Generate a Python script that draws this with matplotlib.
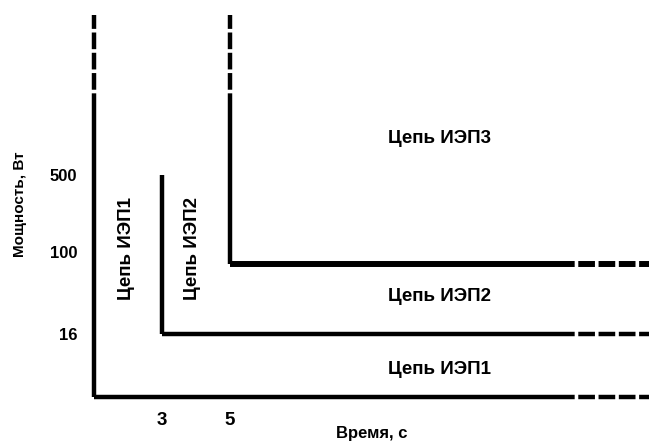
import numpy as np
import matplotlib
matplotlib.use("Agg")
import matplotlib.pyplot as plt
import matplotlib.transforms as mtransforms

# schematic levels
power_levels = [16, 100, 500]          # Вт
time_marks = [3, 5]                    # с
power_solid_top = 1000                 # where solid lines turn dashed (upwards)
power_top = 2000
time_solid_end = 30                    # where solid lines turn dashed (rightwards)
time_end = 40

circuit_labels = ["Цепь ИЭП1", "Цепь ИЭП2", "Цепь ИЭП3"]

# non-uniform schematic axes (the drawing is not to scale)
p_vals = [0, 16, 100, 500, power_solid_top, power_top]
p_pos = [0, 63.5, 133, 222, 287, 382]
t_vals = [0, 3, 5, time_solid_end, time_end]
t_pos = [0, 68, 136, 464, 555]

def fwd_p(v):
    return np.interp(v, p_vals, p_pos)

def inv_p(v):
    return np.interp(v, p_pos, p_vals)

def fwd_t(v):
    return np.interp(v, t_vals, t_pos)

def inv_t(v):
    return np.interp(v, t_pos, t_vals)

plt.rcParams['font.family'] = ['Liberation Sans', 'DejaVu Sans']
plt.rcParams['font.weight'] = 'bold'

W, H = 649, 445
fig = plt.figure(figsize=(W / 100, H / 100), dpi=100)
ax = fig.add_axes([94 / W, 48 / H, 555 / W, 382 / H])
ax.set_xscale('function', functions=(fwd_t, inv_t))
ax.set_yscale('function', functions=(fwd_p, inv_p))
ax.set_xlim(0, time_end)
ax.set_ylim(0, power_top)
for s in ax.spines.values():
    s.set_visible(False)

lw_axis = 3.2
lw_thick = 4.3

def dashed(lw):
    # ~17 px dash, ~3.5 px gap regardless of width
    return (0, (12.0 / lw, 2.6 / lw))

k = dict(color='black', clip_on=False, solid_capstyle='butt', dash_capstyle='butt')

# y axis
ax.plot([0, 0], [0, power_solid_top], lw=lw_axis, **k)
ax.plot([0, 0], [power_solid_top, power_top], lw=lw_axis, ls=dashed(lw_axis), **k)
# x axis (level 0)
ax.plot([0, time_solid_end], [0, 0], lw=lw_axis, **k)
ax.plot([time_solid_end, time_end], [0, 0], lw=lw_axis, ls=dashed(lw_axis), **k)

# ИЭП2 boundary: t = 3 s, P = 16 W .. 500 W
ax.plot([time_marks[0], time_marks[0]], [power_levels[0], power_levels[2]], lw=lw_axis, **k)
ax.plot([time_marks[0], time_solid_end], [power_levels[0], power_levels[0]], lw=lw_axis, **k)
ax.plot([time_solid_end, time_end], [power_levels[0], power_levels[0]], lw=lw_axis, ls=dashed(lw_axis), **k)

# ИЭП3 boundary: t = 5 s, P = 100 W
ax.plot([time_marks[1], time_marks[1]], [power_levels[1], power_solid_top], lw=lw_axis, **k)
ax.plot([time_marks[1], time_marks[1]], [power_solid_top, power_top], lw=lw_axis, ls=dashed(lw_axis), **k)
ax.plot([time_marks[1], time_solid_end], [power_levels[1], power_levels[1]], lw=lw_thick, **k)
ax.plot([time_solid_end, time_end], [power_levels[1], power_levels[1]], lw=lw_thick, ls=dashed(lw_thick), **k)

ax.set_yticks(power_levels)
ax.set_yticklabels([str(v) for v in power_levels])
ax.set_xticks(time_marks)
ax.set_xticklabels([str(v) for v in time_marks])
ax.tick_params(axis='y', length=0, pad=12, labelsize=12)
ax.tick_params(axis='x', length=0, pad=11, labelsize=13.5)
ax.minorticks_off()

# in the original the "100" label sits a bit above its line
for lab in ax.get_yticklabels():
    if lab.get_text() == "100":
        lab.set_transform(lab.get_transform() +
                          mtransforms.ScaledTranslation(0, 12 / 100, fig.dpi_scale_trans))

ax.set_xlabel("Время, с", fontsize=12, fontweight='bold')
ax.xaxis.set_label_coords(0.501, -0.075)
ax.set_ylabel("Мощность, Вт", fontsize=11, fontweight='bold')
ax.yaxis.set_label_coords(-0.12, 0.505)

tk = dict(transform=ax.transAxes, ha='center', va='center', fontsize=13.5, fontweight='bold')
ax.text(0.623, 0.071, circuit_labels[0], **tk)
ax.text(0.623, 0.262, circuit_labels[1], **tk)
ax.text(0.623, 0.678, circuit_labels[2], **tk)
ax.text(0.058, 0.39, circuit_labels[0], rotation=90, **tk)
ax.text(0.178, 0.39, circuit_labels[1], rotation=90, **tk)

fig.savefig("out.png", dpi=100)
